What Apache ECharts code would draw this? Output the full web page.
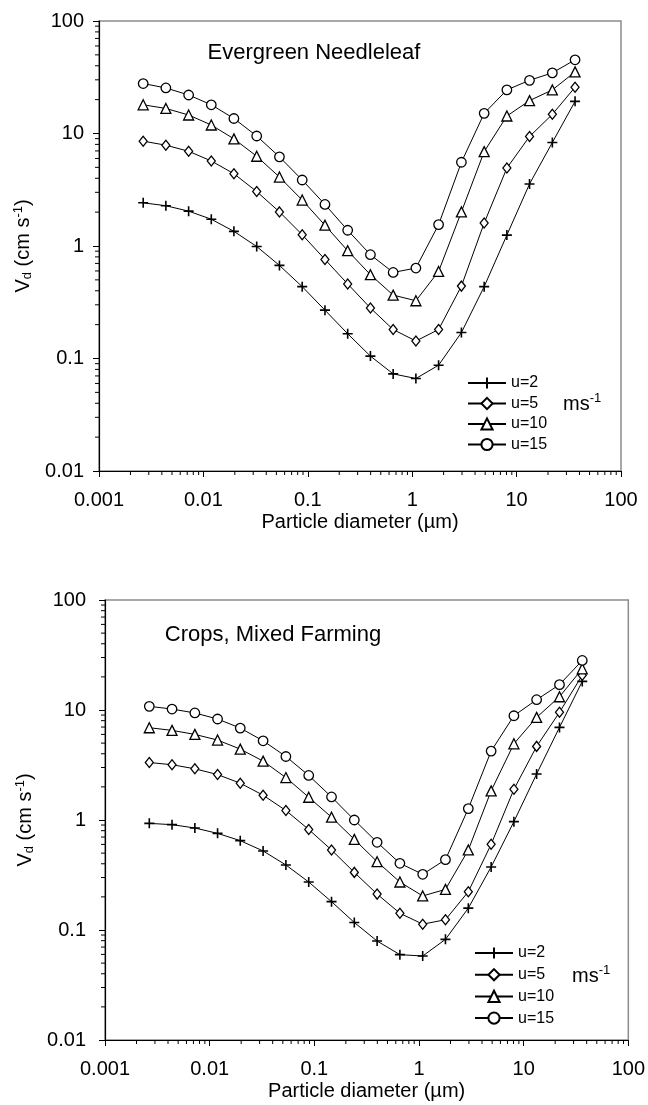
<!DOCTYPE html>
<html>
<head>
<meta charset="utf-8">
<title>Deposition velocity vs particle diameter</title>
<script src="https://cdn.jsdelivr.net/npm/echarts@6/dist/echarts.min.js"></script>
<style>
  html, body { margin: 0; padding: 0; background: #fff; }
  #chart { width: 648px; height: 1105px; }
</style>
</head>
<body>
<div id="chart"></div>
<script>
// Particle diameters (µm), shared by both panels
const diameters = [0.00265, 0.00437, 0.00722, 0.0119, 0.0196, 0.0324, 0.0535, 0.0884, 0.146, 0.241,
                   0.398, 0.657, 1.085, 1.79, 2.96, 4.89, 8.07, 13.3, 22.0, 36.3];

// Wind speeds (m/s) used as series names
const seriesNames = ['u=2', 'u=5', 'u=10', 'u=15'];

// Panel titles
const panelTitles = ['Evergreen Needleleaf', 'Crops, Mixed Farming'];

// Evergreen Needleleaf: deposition velocity Vd (cm/s)
const needleU2  = [2.42, 2.28, 2.04, 1.73, 1.35, 0.99, 0.672, 0.435, 0.269, 0.166, 0.105, 0.073, 0.0664, 0.0872, 0.170, 0.435, 1.25, 3.56, 8.32, 19.3];
const needleU5  = [8.55, 7.87, 6.95, 5.70, 4.39, 3.05, 2.01, 1.26, 0.760, 0.460, 0.281, 0.181, 0.143, 0.181, 0.44, 1.60, 4.93, 9.4, 14.8, 25.8];
const needleU10 = [18.0, 16.7, 14.6, 11.9, 8.96, 6.28, 4.10, 2.56, 1.53, 0.908, 0.556, 0.366, 0.326, 0.594, 2.01, 6.9, 14.3, 19.6, 24.4, 35.3];
const needleU15 = [27.8, 25.4, 22.0, 18.0, 13.6, 9.5, 6.2, 3.86, 2.34, 1.38, 0.837, 0.582, 0.637, 1.55, 5.55, 15.1, 24.4, 29.7, 34.6, 45.2];

// Crops, Mixed Farming: deposition velocity Vd (cm/s)
const cropsU2  = [0.932, 0.907, 0.846, 0.756, 0.649, 0.523, 0.390, 0.273, 0.181, 0.117, 0.0794, 0.0597, 0.058, 0.0822, 0.158, 0.374, 0.966, 2.62, 6.95, 18.2];
const cropsU5  = [3.33, 3.18, 2.92, 2.59, 2.16, 1.68, 1.22, 0.82, 0.534, 0.334, 0.212, 0.142, 0.113, 0.124, 0.223, 0.601, 1.90, 4.67, 9.53, 20.7];
const cropsU10 = [6.90, 6.53, 6.0, 5.33, 4.41, 3.43, 2.43, 1.61, 1.06, 0.667, 0.418, 0.273, 0.204, 0.234, 0.534, 1.84, 4.93, 8.57, 13.2, 23.7];
const cropsU15 = [10.8, 10.2, 9.4, 8.28, 6.85, 5.25, 3.78, 2.54, 1.62, 1.0, 0.627, 0.404, 0.321, 0.436, 1.27, 4.23, 8.87, 12.4, 17.0, 28.2];

// Axis tick labels, one per decade
const xTickLabels = ['0.001', '0.01', '0.1', '1', '10', '100'];   // 1e-3 .. 1e2
const yTickLabels = ['0.01', '0.1', '1', '10', '100'];            // 1e-2 .. 1e2

// Axis ranges
const xRange = [0.001, 100];
const yRange = [0.01, 100];

const FONT = '"Liberation Sans", Arial, Helvetica, sans-serif';

// Log-paper minor ticks: 2..9 within every decade of an axis range
function minorTickValues(lo, hi) {
  const out = [];
  for (let e = Math.round(Math.log10(lo)); e < Math.round(Math.log10(hi)); e++) {
    for (let m = 2; m <= 9; m++) out.push(m * Math.pow(10, e));
  }
  return out;
}

const symbols = {
  'u=2': 'path://M5,0 L5,10 M0,5 L10,5',
  'u=5': 'diamond',
  'u=10': 'triangle',
  'u=15': 'circle'
};
const symbolSizes = { 'u=2': 10, 'u=5': [8, 10], 'u=10': 10, 'u=15': 9.5 };

function lineSeries(name, values, idx) {
  const plus = name === 'u=2';
  return {
    type: 'line',
    name: name,
    xAxisIndex: idx,
    yAxisIndex: idx,
    data: diameters.map((d, i) => [d, values[i]]),
    symbol: symbols[name],
    symbolSize: symbolSizes[name],
    showAllSymbol: true,
    lineStyle: { color: '#000', width: 1 },
    itemStyle: plus
      ? { color: '#000', borderColor: '#000', borderWidth: 1.6 }
      : { color: '#fff', borderColor: '#000', borderWidth: 1.3 },
    emphasis: { disabled: true },
    z: 3
  };
}

// Short minor-tick strokes placed through the axis scales
function minorTickSeries(idx, dir) {
  const vals = dir === 'x' ? minorTickValues(xRange[0], xRange[1]) : minorTickValues(yRange[0], yRange[1]);
  return {
    type: 'custom',
    xAxisIndex: idx,
    yAxisIndex: idx,
    silent: true,
    clip: false,
    z: 4,
    data: vals.map(v => dir === 'x' ? [v, yRange[0]] : [xRange[0], v]),
    renderItem: function (params, api) {
      const p = api.coord([api.value(0), api.value(1)]);
      const shape = dir === 'x'
        ? { x1: p[0], y1: p[1], x2: p[0], y2: p[1] + 4 }
        : { x1: p[0], y1: p[1], x2: p[0] - 4, y2: p[1] };
      return { type: 'line', shape: shape, style: { stroke: '#000', lineWidth: 1 } };
    }
  };
}

function xAxisFor(idx, labelMargin, nameGap) {
  return {
    type: 'log', logBase: 10, gridIndex: idx,
    min: xRange[0], max: xRange[1], interval: 1,
    position: 'bottom',
    axisLine: { lineStyle: { color: '#000', width: 1.2 } },
    axisTick: { length: 6, lineStyle: { color: '#000', width: 1 } },
    minorTick: { show: false },
    splitLine: { show: false },
    axisLabel: {
      margin: labelMargin, color: '#000', fontSize: 20, fontFamily: FONT,
      formatter: v => xTickLabels[Math.round(Math.log10(v)) + 3]
    },
    name: 'Particle diameter (µm)',
    nameLocation: 'middle',
    nameGap: nameGap,
    nameTextStyle: { color: '#000', fontSize: 20, fontFamily: FONT }
  };
}

function yAxisFor(idx, labelMargin, nameGap) {
  return {
    type: 'log', logBase: 10, gridIndex: idx,
    min: yRange[0], max: yRange[1], interval: 1,
    position: 'left',
    axisLine: { lineStyle: { color: '#000', width: 1.2 } },
    axisTick: { length: 6, lineStyle: { color: '#000', width: 1 } },
    minorTick: { show: false },
    splitLine: { show: false },
    axisLabel: {
      margin: labelMargin, color: '#000', fontSize: 20, fontFamily: FONT,
      formatter: v => yTickLabels[Math.round(Math.log10(v)) + 2]
    },
    name: '{v|V}{sub|d}{v| (cm s}{sup|-1}{v|)}',
    nameLocation: 'middle',
    nameRotate: 90,
    nameGap: nameGap,
    nameTextStyle: {
      color: '#000', fontFamily: FONT,
      rich: {
        v: { fontSize: 20, fontFamily: FONT, color: '#000' },
        sub: { fontSize: 13, fontFamily: FONT, color: '#000', padding: [9, 0, 0, 0] },
        sup: { fontSize: 13, fontFamily: FONT, color: '#000', padding: [0, 0, 10, 0] }
      }
    }
  };
}

function legendFor(left, top, gap) {
  return {
    orient: 'vertical',
    left: left, top: top,
    data: seriesNames,
    itemWidth: 38, itemHeight: 14, itemGap: gap,
    selectedMode: false,
    padding: 0,
    textStyle: { color: '#000', fontSize: 16, fontFamily: FONT, lineHeight: 18 }
  };
}

function unitsLabel(x, y) {
  return {
    type: 'text', x: x, y: y,
    style: {
      text: '{a|ms}{b|-1}',
      verticalAlign: 'middle',
      rich: {
        a: { fontSize: 20, fontFamily: FONT, fill: '#000', color: '#000' },
        b: { fontSize: 13, fontFamily: FONT, fill: '#000', color: '#000', padding: [0, 0, 11, 0] }
      }
    }
  };
}

function panelTitle(text, x, y) {
  return {
    type: 'text', x: x, y: y,
    style: { text: text, font: '22px ' + FONT, fill: '#000', align: 'center', verticalAlign: 'middle' }
  };
}

const chart = echarts.init(document.getElementById('chart'), null, { renderer: 'canvas' });

const option = {
  animation: false,
  backgroundColor: '#fff',
  textStyle: { fontFamily: FONT },
  grid: [
    { left: 99, top: 21, width: 522, height: 450, show: true, borderColor: '#8c8c8c', borderWidth: 1.5, backgroundColor: 'transparent' },
    { left: 105, top: 600, width: 524, height: 440, show: true, borderColor: '#8c8c8c', borderWidth: 1.5, backgroundColor: 'transparent' }
  ],
  xAxis: [xAxisFor(0, 19, 41), xAxisFor(1, 19, 41)],
  yAxis: [yAxisFor(0, 15, 59), yAxisFor(1, 19, 61)],
  legend: [legendFor(467, 374, 2.5), legendFor(474, 944, 3.7)],
  graphic: [
    panelTitle(panelTitles[0], 314, 53),
    panelTitle(panelTitles[1], 273, 635),
    unitsLabel(563, 404),
    unitsLabel(572, 976)
  ],
  series: [
    lineSeries('u=2', needleU2, 0),
    lineSeries('u=5', needleU5, 0),
    lineSeries('u=10', needleU10, 0),
    lineSeries('u=15', needleU15, 0),
    lineSeries('u=2', cropsU2, 1),
    lineSeries('u=5', cropsU5, 1),
    lineSeries('u=10', cropsU10, 1),
    lineSeries('u=15', cropsU15, 1),
    minorTickSeries(0, 'x'), minorTickSeries(0, 'y'),
    minorTickSeries(1, 'x'), minorTickSeries(1, 'y')
  ]
};

chart.setOption(option);
</script>
</body>
</html>
